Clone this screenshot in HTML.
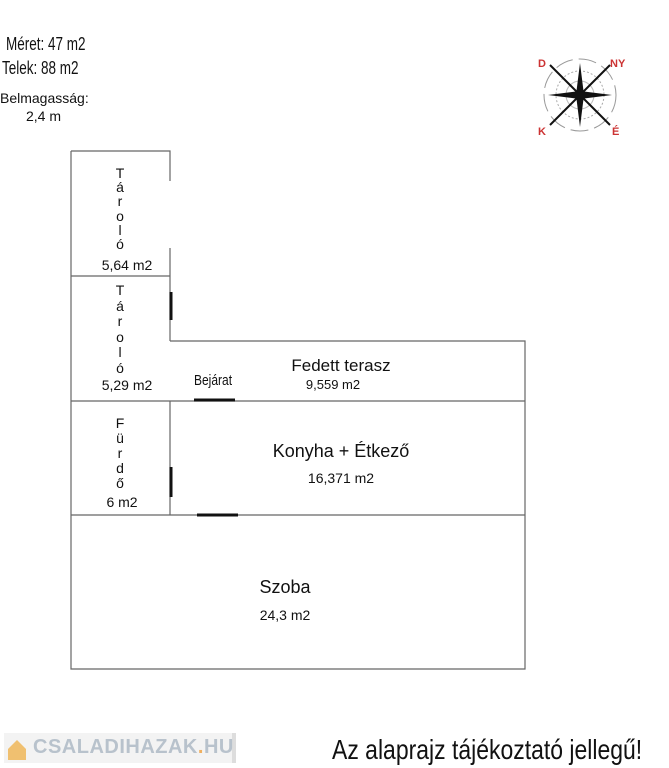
<!DOCTYPE html>
<html><head><meta charset="utf-8"><style>
body{margin:0;width:669px;height:768px;background:#fff;position:relative;overflow:hidden;font-family:"Liberation Sans",sans-serif;color:#111}
.t{position:absolute;white-space:nowrap}
.c{transform:translateX(-50%)}
.n{transform-origin:left top;transform:scaleX(.8)}
.v{position:absolute;left:120px;transform:translateX(-50%);font-size:14px;text-align:center;line-height:1}
</style></head><body>
<svg width="669" height="768" style="position:absolute;left:0;top:0">
<g stroke="#666" stroke-width="1.2" fill="none">
<path d="M71 151H170V181M170 248V341M71 151V669H525V341H170M71 276H170M71 401H525M71 515H525M170 401V515"/>
</g>
<g stroke="#111" stroke-width="3">
<path d="M171 292V320M194 400H235M171 467V497M197 515H238"/>
</g>
<g transform="translate(580,95)">
<circle r="36" fill="none" stroke="#999" stroke-width="1" stroke-dasharray="18 6"/>
<circle r="24" fill="none" stroke="#aaa" stroke-width="1" stroke-dasharray="2 2"/>
<circle r="14" fill="none" stroke="#bbb" stroke-width="1"/>
<g stroke="#111" stroke-width="2"><path d="M-30 -30L30 30M30 -30L-30 30"/></g>
<polygon points="0,-32 4,0 0,32 -4,0" fill="#111"/>
<polygon points="-32,0 0,4 32,0 0,-4" fill="#111"/>
<g fill="#c33" font-size="11" font-weight="bold" font-family="Liberation Sans">
<text x="-42" y="-28">D</text><text x="30" y="-28">NY</text><text x="-42" y="40">K</text><text x="32" y="40">É</text>
</g>
</g>
</svg>
<div class="t n" style="left:6px;top:34px;font-size:18px;transform:scaleX(.75)">Méret: 47 m2</div>
<div class="t n" style="left:2px;top:58px;font-size:18px;transform:scaleX(.75)">Telek: 88 m2</div>
<div class="t" style="left:0;top:90px;font-size:14px">Belmagasság:</div>
<div class="t" style="left:26px;top:108px;font-size:14px">2,4 m</div>

<div class="v" style="top:166px;line-height:14.2px">T<br>á<br>r<br>o<br>l<br>ó</div>
<div class="t c" style="left:127px;top:257px;font-size:14px">5,64 m2</div>
<div class="v" style="top:283px;line-height:15.6px">T<br>á<br>r<br>o<br>l<br>ó</div>
<div class="t c" style="left:127px;top:377px;font-size:14px">5,29 m2</div>
<div class="v" style="top:416px;line-height:15px">F<br>ü<br>r<br>d<br>ő</div>
<div class="t c" style="left:122px;top:494px;font-size:14px">6 m2</div>

<div class="t n" style="left:194px;top:372px;font-size:15px">Bejárat</div>
<div class="t c" style="left:341px;top:356px;font-size:17px">Fedett terasz</div>
<div class="t c" style="left:333px;top:377px;font-size:13px">9,559 m2</div>
<div class="t c" style="left:341px;top:441px;font-size:18px">Konyha + Étkező</div>
<div class="t c" style="left:341px;top:470px;font-size:14px">16,371 m2</div>
<div class="t c" style="left:285px;top:577px;font-size:18px">Szoba</div>
<div class="t c" style="left:285px;top:607px;font-size:14px">24,3 m2</div>

<div style="position:absolute;left:4px;top:733px;width:228px;height:30px;background:#f3f3f3;border-right:4px solid #ddd"></div>
<div style="position:absolute;left:8px;top:740px;width:18px;height:20px;background:#f0c070;clip-path:polygon(50% 0,100% 45%,100% 100%,0 100%,0 45%)"></div>
<div class="t" style="left:33px;top:736px;font-size:20px;font-weight:bold;color:#b8c2cc;letter-spacing:.5px">CSALADIHAZAK<span style="color:#f0b060">.</span>HU</div>
<div class="t n" style="left:332px;top:734px;font-size:28px;transform:scaleX(.82)">Az alaprajz tájékoztató jellegű!</div>
</body></html>
